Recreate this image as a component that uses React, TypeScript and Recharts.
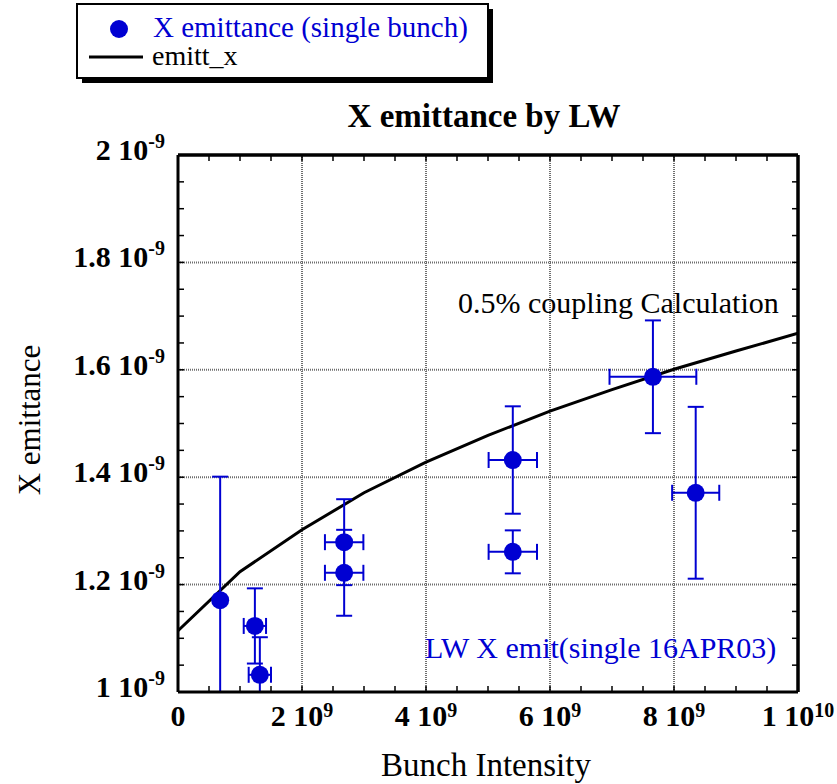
import React from "react";
import {
  ComposedChart,
  Line,
  Scatter,
  ErrorBar,
  XAxis,
  YAxis,
  ReferenceLine,
} from "recharts";

// bunch intensity in units of 1e9, emittance in units of 1e-9
const intensity = [0.68, 1.24, 1.32, 2.68, 2.68, 5.4, 5.4, 7.66, 8.35];
const emittance = [1.171, 1.123, 1.032, 1.279, 1.222, 1.432, 1.261, 1.587, 1.371];
const intensityErr = [0, 0.18, 0.18, 0.31, 0.31, 0.39, 0.39, 0.7, 0.38];
// [below, above]; the first and third bars run past the bottom of the frame
const emittanceErr = [
  [0.171, 0.23],
  [0.07, 0.07],
  [0.032, 0.07],
  [0.08, 0.08],
  [0.08, 0.08],
  [0.1, 0.1],
  [0.04, 0.04],
  [0.105, 0.105],
  [0.16, 0.16],
];

const calcIntensity = [0, 1, 2, 3, 4, 5, 6, 7, 8, 9, 10];
const calcEmittance = [1.114, 1.224, 1.302, 1.371, 1.428, 1.478, 1.523, 1.563, 1.601, 1.635, 1.668];

const xTicks = [0, 2, 4, 6, 8, 10];
const xTickMantissa = ["0", "2 10", "4 10", "6 10", "8 10", "1 10"];
const xTickExp = ["", "9", "9", "9", "9", "10"];
const xMinorTicks = [0, 0.5, 1, 1.5, 2, 2.5, 3, 3.5, 4, 4.5, 5, 5.5, 6, 6.5, 7, 7.5, 8, 8.5, 9, 9.5, 10];

const yTicks = [1, 1.2, 1.4, 1.6, 1.8, 2];
const yTickMantissa = ["1 10", "1.2 10", "1.4 10", "1.6 10", "1.8 10", "2 10"];
const yTickExp = ["-9", "-9", "-9", "-9", "-9", "-9"];
const yMinorTicks = [
  1, 1.05, 1.1, 1.15, 1.2, 1.25, 1.3, 1.35, 1.4, 1.45, 1.5, 1.55, 1.6, 1.65, 1.7, 1.75, 1.8, 1.85, 1.9,
  1.95, 2,
];

const points = intensity.map((x, i) => ({
  x,
  y: emittance[i],
  ex: intensityErr[i],
  ey: emittanceErr[i],
}));
const calc = calcIntensity.map((x, i) => ({ x, y: calcEmittance[i] }));

const FONT = '"Liberation Serif", "Times New Roman", serif';
const BLUE = "#0000d2";

function BottomTick(props: any) {
  const { x, y, payload } = props;
  const i = xTicks.indexOf(payload.value);
  return (
    <g>
      <line x1={x} x2={x} y1={y} y2={y - 6} stroke="#000" strokeWidth={1.5} />
      {i >= 0 && (
        <text x={x} y={y + 34} textAnchor="middle" fontFamily={FONT} fontSize={30} fontWeight="bold" fill="#000">
          {xTickMantissa[i]}
          <tspan dy={-9} fontSize={20}>
            {xTickExp[i]}
          </tspan>
        </text>
      )}
    </g>
  );
}

function LeftTick(props: any) {
  const { x, y, payload } = props;
  const i = yTicks.indexOf(payload.value);
  return (
    <g>
      <line x1={x} x2={x + 6} y1={y} y2={y} stroke="#000" strokeWidth={1.5} />
      {i >= 0 && (
        <text x={x - 13} y={y + 5} textAnchor="end" fontFamily={FONT} fontSize={30} fontWeight="bold" fill="#000">
          {yTickMantissa[i]}
          <tspan dy={-12} fontSize={20}>
            {yTickExp[i]}
          </tspan>
        </text>
      )}
    </g>
  );
}

function TopTick(props: any) {
  const { x, y } = props;
  return <line x1={x} x2={x} y1={y} y2={y + 6} stroke="#000" strokeWidth={1.5} />;
}

function RightTick(props: any) {
  const { x, y } = props;
  return <line x1={x} x2={x - 6} y1={y} y2={y} stroke="#000" strokeWidth={1.5} />;
}

const Dot = (props: any) => <circle cx={props.cx} cy={props.cy} r={9} fill={BLUE} />;

const axisLine = { stroke: "#000", strokeWidth: 3 };
const frame = { stroke: "#000", strokeWidth: 3 };
const grid = { stroke: "#6e6e6e", strokeWidth: 2, strokeDasharray: "1 1" };

export default function App() {
  return (
    <div style={{ position: "absolute", left: 0, top: 0, width: 837, height: 784, background: "#fff" }}>
      <ComposedChart width={837} height={784} margin={{ top: 154, right: 38, bottom: 0, left: 0 }}>
        <XAxis
          xAxisId={0}
          dataKey="x"
          type="number"
          domain={[0, 10]}
          allowDataOverflow
          ticks={xMinorTicks}
          interval={0}
          height={92}
          tickSize={0}
          tickMargin={0}
          tickLine={false}
          axisLine={axisLine}
          tick={<BottomTick />}
        />
        <XAxis
          xAxisId="top"
          dataKey="x"
          orientation="top"
          type="number"
          domain={[0, 10]}
          allowDataOverflow
          ticks={xMinorTicks}
          interval={0}
          height={1}
          tickSize={0}
          tickMargin={0}
          tickLine={false}
          axisLine={axisLine}
          tick={<TopTick />}
        />
        <YAxis
          yAxisId={0}
          dataKey="y"
          type="number"
          domain={[1, 2]}
          allowDataOverflow
          ticks={yMinorTicks}
          interval={0}
          width={178}
          tickSize={0}
          tickMargin={0}
          tickLine={false}
          axisLine={axisLine}
          tick={<LeftTick />}
        />
        <YAxis
          yAxisId="right"
          dataKey="y"
          orientation="right"
          type="number"
          domain={[1, 2]}
          allowDataOverflow
          ticks={yMinorTicks}
          interval={0}
          width={1}
          tickSize={0}
          tickMargin={0}
          tickLine={false}
          axisLine={axisLine}
          tick={<RightTick />}
        />
        {xTicks.slice(1, -1).map((v) => (
          <ReferenceLine key={"gx" + v} x={v} {...grid} />
        ))}
        {yTicks.slice(1, -1).map((v) => (
          <ReferenceLine key={"gy" + v} y={v} {...grid} />
        ))}
        {/* closing edges of the frame */}
        <ReferenceLine x={xTicks[xTicks.length - 1]} {...frame} />
        <ReferenceLine y={yTicks[yTicks.length - 1]} {...frame} />
        {/* invisible copy that ties the top/right frame axes to data */}
        <Line
          xAxisId="top"
          yAxisId="right"
          data={calc}
          dataKey="y"
          stroke="none"
          dot={false}
          activeDot={false}
          legendType="none"
          isAnimationActive={false}
        />
        <Line
          data={calc}
          dataKey="y"
          type="linear"
          stroke="#000"
          strokeWidth={3}
          dot={false}
          isAnimationActive={false}
        />
        <Scatter data={points} dataKey="y" shape={<Dot />} isAnimationActive={false}>
          <ErrorBar dataKey="ex" direction="x" width={8} stroke={BLUE} strokeWidth={2} />
          <ErrorBar dataKey="ey" direction="y" width={8} stroke={BLUE} strokeWidth={2} />
        </Scatter>
      </ComposedChart>

      <svg
        width={837}
        height={784}
        style={{ position: "absolute", left: 0, top: 0, pointerEvents: "none" }}
        fontFamily={FONT}
      >
        {/* legend box */}
        <rect x={82} y={9} width={411} height={74} fill="#000" />
        <rect x={77} y={4} width={411} height={74} fill="#fff" stroke="#000" strokeWidth={2} />
        <circle cx={119} cy={29} r={9} fill={BLUE} />
        <text x={153} y={37} fontSize={29} fill={BLUE}>
          X emittance (single bunch)
        </text>
        <line x1={89} x2={143} y1={57} y2={57} stroke="#000" strokeWidth={3} />
        <text x={152} y={65} fontSize={28} fill="#000">
          emitt_x
        </text>

        <text x={484} y={127} fontSize={33} fontWeight="bold" textAnchor="middle" fill="#000">
          X emittance by LW
        </text>
        <text x={458} y={313} fontSize={30} fill="#000">
          0.5% coupling Calculation
        </text>
        <text x={425} y={658} fontSize={30} fill={BLUE}>
          LW X emit(single 16APR03)
        </text>
        <text x={486} y={776} fontSize={33} textAnchor="middle" fill="#000">
          Bunch Intensity
        </text>
        <text x={40} y={420} fontSize={31} textAnchor="middle" fill="#000" transform="rotate(-90 40 420)">
          X emittance
        </text>
      </svg>
    </div>
  );
}
